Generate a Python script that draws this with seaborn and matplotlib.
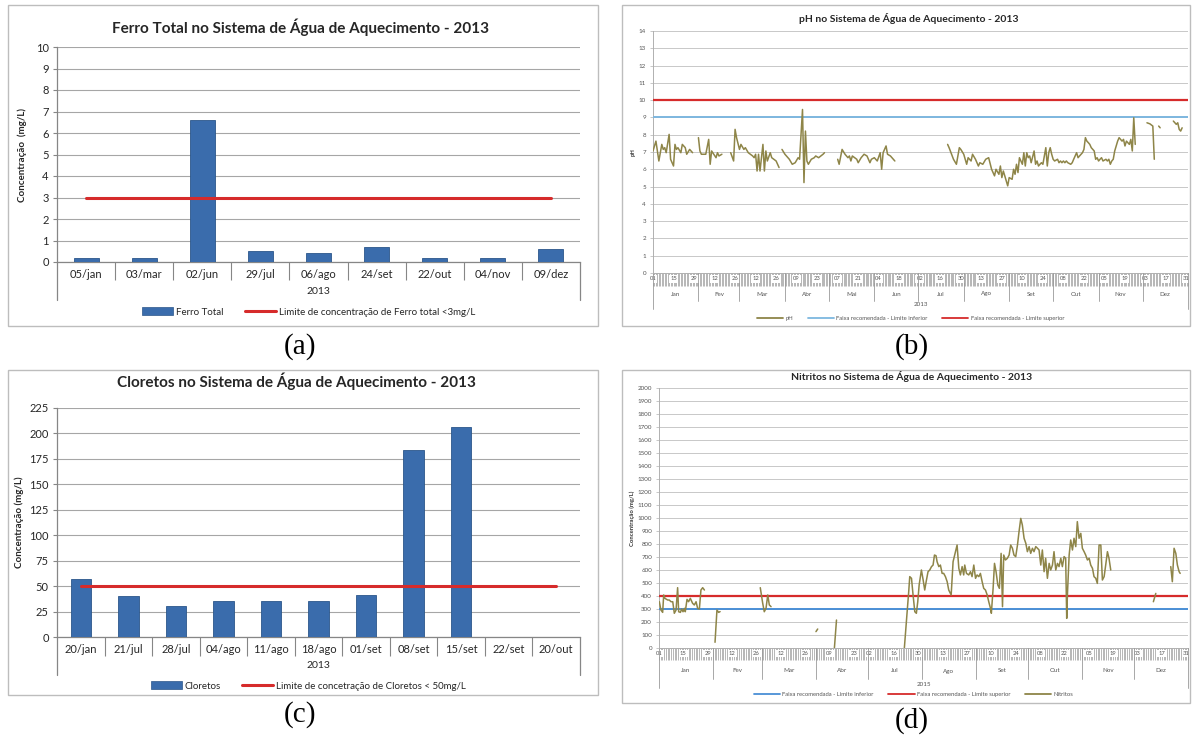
import numpy as np
import pandas as pd
import matplotlib
matplotlib.use("Agg")
import matplotlib.pyplot as plt
import seaborn as sns
from matplotlib.patches import Rectangle, Patch
from matplotlib.lines import Line2D

# ------------------------------------------------------------------ data
ferro_datas = ["05/jan", "03/mar", "02/jun", "29/jul", "06/ago", "24/set", "22/out", "04/nov", "09/dez"]
ferro_valores = [0.2, 0.2, 6.6, 0.5, 0.4, 0.7, 0.2, 0.2, 0.6]
ferro_limite = 3.0

cloretos_datas = ["20/jan", "21/jul", "28/jul", "04/ago", "11/ago", "18/ago", "01/set", "08/set",
                  "15/set", "22/set", "20/out"]
cloretos_valores = [57, 40, 30, 35, 35, 35, 41, 184, 206, np.nan, np.nan]
cloretos_limite = 50.0

# pH: day of year (0 = 1 Jan); np.nan marks a break in the series
ph_dia = [0, 2, 4, 6, 7, 8, 9, 11, 12, 14, 15, 16, 17, 19, 20, 22, 23, 25, 27, np.nan,
          31, 32, 33, 36, 38, 39, 40, 43, 44, 45, 47, np.nan,
          53, 55, 56, 57, 59, 60, 62, 63, 65, 68, 69, 70, 71, 72, 73, 75, 76, 77, 78, 80, 81, 84, 86, np.nan,
          88, 90, 93, 95, 97, 99, 100, 102, 103, 104, 105, 106, 108, 110, 111, 113, 116, 117, np.nan,
          126, 127, 129, 131, 133, 134, 135, 136, 139, 140, 142, 144, 146, 148, 149, 151, 153, 155, 156,
          157, 159, 160, 162, 165, np.nan,
          201, 202, 205, 207, 209, 210, 212, 214, 215, 217, 218, 220, 222, 223, 225, 227, 229, 231, 232,
          233, 234, 236, 237, 238, 239, 240, 242, 243, 245, 246, 247, 248, 249, 250, 252, 253, 254, 255,
          256, 257, 258, 260, 261, 262, 263, 264, 265, 266, 268, 269, 270, 271, 272, 273, 274, 276, 277,
          278, 279, 280, 281, 282, 283, 285, 286, 287, 288, 289, 290, 291, 293, 294, 295, 296, 297, 298,
          299, 301, 302, 303, 304, 305, 306, 307, 309, 310, 311, 312, 313, 314, 315, 317, 318, 319, 320,
          321, 322, 323, 325, 326, 327, 328, 329, np.nan,
          337, 339, 341, 342, np.nan, 345, 346, np.nan, 355, 357, 358, 359, 360, 361]
ph_valor = [7.06, 7.63, 6.48, 7.44, 7.15, 7.25, 6.96, 8.02, 6.58, 6.19, 7.44, 7.15, 7.25, 6.96, 7.44, 7.25,
            6.87, 7.15, 6.96, np.nan,
            7.83, 7.06, 6.87, 6.87, 7.73, 6.29, 7.06, 6.67, 6.96, 6.77, 6.87, np.nan,
            6.96, 6.48, 8.31, 7.83, 7.15, 7.44, 7.15, 7.25, 6.96, 6.77, 6.67, 6.87, 5.9, 6.87, 5.9, 7.44,
            5.9, 7.06, 6.48, 6.96, 6.67, 6.48, 6.1, np.nan,
            7.15, 6.87, 6.58, 6.29, 6.38, 6.67, 6.58, 9.46, 5.23, 8.21, 6.48, 6.29, 6.58, 6.67, 6.77, 6.67,
            6.87, 6.96, np.nan,
            6.58, 6.29, 7.15, 6.87, 6.67, 6.77, 6.48, 6.77, 6.58, 6.38, 6.67, 6.87, 6.77, 6.38, 6.58, 6.67,
            6.48, 6.96, 6.0, 6.96, 7.35, 6.87, 6.77, 6.48, np.nan,
            7.44, 7.25, 6.58, 6.29, 7.25, 7.15, 6.87, 6.29, 6.67, 6.48, 6.87, 6.58, 6.19, 6.38, 6.29, 6.58,
            6.67, 6.0, 5.81, 5.62, 6.0, 5.71, 6.19, 5.52, 5.9, 5.62, 5.04, 5.52, 5.42, 6.0, 5.71, 6.29,
            5.81, 6.67, 6.29, 6.96, 6.19, 6.96, 6.67, 6.77, 6.38, 7.06, 6.29, 6.48, 6.19, 6.29, 6.38, 6.29,
            7.25, 6.19, 6.96, 7.25, 6.87, 6.58, 6.48, 6.58, 6.38, 6.48, 6.38, 6.48, 6.38, 6.48, 6.38, 6.29,
            6.38, 6.58, 6.77, 6.96, 6.67, 6.77, 6.96, 7.15, 7.83, 7.63, 7.54, 7.44, 7.25, 7.06, 6.58, 6.67,
            6.48, 6.58, 6.67, 6.48, 6.58, 6.48, 6.58, 6.29, 6.48, 6.58, 7.06, 7.63, 7.83, 7.73, 7.63, 7.73,
            7.35, 7.63, 7.44, 7.73, 7.06, 8.98, 7.44, np.nan,
            8.69, 8.63, 8.5, 6.58, np.nan, 8.5, 8.4, np.nan, 8.79, 8.6, 8.69, 8.31, 8.21, 8.4]
ph_limite_inferior = 9.0
ph_limite_superior = 10.0

# Nitritos: position on the category axis (days, May and June absent); np.nan = break
nitrito_dia = [0.2, 1.1, 2.1, 2.7, 3.4, 5.0, 5.9, 6.9, 7.9, 8.8, 9.8, 10.7, 11.3, 12.3, 13.0, 13.8, 14.6,
               15.1, 16.1, 17.0, 18.0, 19.3, 20.3, 21.3, 22.2, 23.2, 24.1, 25.1, 26.1, np.nan,
               32.2, 33.3, 34.3, 35.1, np.nan,
               58.2, 59.6, 60.5, 61.5, 62.5, 63.4, 64.4, np.nan,
               90.2, 91.2, np.nan, 100.8, 102.0, np.nan,
               141.0, 142.6, 143.5, 144.1, 145.1, 146.0, 147.0, 147.9, 148.7, 149.5, 150.8, 151.8, 152.7,
               153.7, 154.6, 155.6, 156.6, 157.5, 158.3, 159.2, 159.8, 160.8, 161.7, 162.7, 163.6, 164.6,
               165.6, 166.5, 167.9, 169.0, 171.3, 172.3, 173.2, 174.2, 175.1, 175.7, 176.7, 178.0, 179.0,
               179.9, 180.9, 181.9, 182.8, 183.8, 184.7, 185.7, 186.6, 187.6, 188.6, 189.5, 190.5, 191.0,
               192.0, 192.8, 193.7, 194.7, 195.6, 196.6, 197.4, 198.1, 199.1, 200.2, 201.2, 202.1, 203.1,
               204.0, 205.0, 206.0, 206.9, 207.9, 208.8, 209.8, 210.8, 211.7, 212.7, 213.6, 214.6, 215.5,
               216.5, 217.5, 218.4, 219.4, 220.3, 221.3, 222.2, 223.2, 224.2, 225.1, 226.1, 227.0, 228.0,
               229.0, 229.9, 230.9, 231.8, 232.8, 233.7, 234.3, 234.7, 235.7, 236.6, 237.6, 238.5, 239.5,
               240.4, 241.4, 242.4, 243.3, 244.3, 245.2, 246.2, 247.2, 248.1, 249.1, 250.0, 251.0, 251.9,
               252.9, 253.9, 254.8, 255.8, 256.7, 257.7, 258.6, 259.6, np.nan,
               284.1, 285.5, np.nan,
               294.1, 295.0, 296.0, 297.0, 297.9, 298.9, 299.5]
nitrito_valor = [356, 292, 274, 408, 382, 369, 369, 356, 356, 267, 292, 464, 279, 274, 300, 279, 305,
                 279, 374, 356, 382, 344, 331, 356, 305, 300, 446, 464, 446, np.nan,
                 44, 292, 274, 280, np.nan,
                 464, 344, 279, 305, 408, 331, 318, np.nan,
                 126, 146, np.nan, 0, 215, np.nan,
                 0, 279, 433, 549, 536, 408, 279, 267, 356, 485, 600, 523, 446,
                 523, 587, 600, 626, 638, 715, 710, 664, 626, 638, 574, 574, 549,
                 510, 446, 408, 664, 792, 613, 562, 626, 562, 638, 574, 562, 587,
                 549, 638, 536, 562, 549, 574, 510, 459, 446, 408, 356, 305, 267,
                 459, 651, 587, 485, 459, 728, 318, 715, 677, 690, 715, 792, 767,
                 715, 703, 792, 895, 997, 946, 844, 805, 741, 780, 728, 767, 741,
                 780, 767, 754, 638, 754, 587, 690, 536, 651, 600, 638, 741, 600,
                 651, 626, 690, 626, 703, 690, 228, 408, 715, 831, 754, 844, 780,
                 972, 844, 882, 767, 741, 715, 677, 690, 638, 613, 549, 536, 497,
                 792, 792, 523, 549, 638, 741, 690, 600, np.nan,
                 356, 420, np.nan,
                 626, 510, 767, 728, 638, 587, 574]
nitrito_limite_inferior = 300.0
nitrito_limite_superior = 400.0

meses = ["Jan", "Fev", "Mar", "Abr", "Mai", "Jun", "Jul", "Ago", "Set", "Out", "Nov", "Dez"]
dias_mes = [31, 28, 31, 30, 31, 30, 31, 31, 30, 31, 30, 31]
meses_nitrito = ["Jan", "Fev", "Mar", "Abr", "Jul", "Ago", "Set", "Out", "Nov", "Dez"]
dias_mes_nitrito = [31, 28, 31, 30, 31, 31, 30, 31, 30, 31]

# ------------------------------------------------------------------ style
sns.set_theme(style="white")
plt.rcParams["font.family"] = ["Lato", "DejaVu Sans"]

W, H = 1195, 736
fig = plt.figure(figsize=(W / 100, H / 100), dpi=100)
fig.patch.set_facecolor("white")

BAR = "#3A6CAC"
BAR_EDGE = "#2B568A"
RED = "#D62B2B"
OLIVE = "#8E8548"
BLUE_B = "#7DB7DF"
BLUE_D = "#4A8FD6"
TXT = "#262626"
GRID = "#A6A6A6"


def add_ax(x0, y0, x1, y1):
    return fig.add_axes([x0 / W, 1 - y1 / H, (x1 - x0) / W, (y1 - y0) / H])


def box(x0, y0, x1, y1):
    fig.add_artist(Rectangle((x0 / W, 1 - y1 / H), (x1 - x0) / W, (y1 - y0) / H,
                             transform=fig.transFigure, fill=False, edgecolor="#BDBDBD", lw=1.0))


def fx(px):
    return px / W


def fy(py):
    return 1 - py / H


def segments(x, y):
    x = np.asarray(x, float)
    y = np.asarray(y, float)
    seg = np.cumsum(np.isnan(y))
    df = pd.DataFrame({"x": x, "y": y, "seg": seg})
    return df.dropna()


# ------------------------------------------------------------------ bar panels
def bar_panel(axpx, cats, vals, lim, ymax, ystep, title, title_xy, ylabel, ylabel_x,
              leg_labels, leg_y, year_y, sep_px, outer_px):
    x0, y0, x1, y1 = axpx
    axh = y1 - y0
    ax = add_ax(*axpx)
    n = len(cats)
    df = pd.DataFrame({"cat": cats, "val": vals})
    sns.barplot(data=df, x="cat", y="val", order=cats, ax=ax, color=BAR, width=0.43,
                saturation=1, edgecolor=BAR_EDGE, linewidth=0.6, zorder=3)
    sns.lineplot(x=np.arange(n), y=np.full(n, lim), ax=ax, color=RED, lw=2.2, zorder=4)
    ax.set_xlim(-0.5, n - 0.5)
    ax.set_ylim(0, ymax)
    ax.set_yticks(np.arange(0, ymax + ystep / 2, ystep))
    ax.grid(axis="y", color=GRID, lw=0.8)
    ax.set_axisbelow(True)
    for s in ["top", "right"]:
        ax.spines[s].set_visible(False)
    for s in ["left", "bottom"]:
        ax.spines[s].set_color("#868686")
        ax.spines[s].set_linewidth(0.9)
    ax.tick_params(axis="y", left=True, length=3, width=0.8, color="#868686", labelsize=8,
                   labelcolor=TXT, pad=3)
    ax.tick_params(axis="x", which="major", bottom=True, length=0, pad=5, labelsize=8, labelcolor=TXT)
    ax.set_xticks(np.arange(0.5, n - 1, 1.0), minor=True)
    ax.tick_params(axis="x", which="minor", bottom=True, length=sep_px * 0.72, width=0.8,
                   color="#868686")
    ax.set_xlabel("")
    ax.set_ylabel(ylabel, fontsize=7, fontweight="bold", color=TXT)
    ax.yaxis.set_label_coords(-(x0 - ylabel_x) / (x1 - x0), 0.5)
    tr = ax.get_xaxis_transform()
    for xv in (-0.5, n - 0.5):
        ax.plot([xv, xv], [0, -outer_px / axh], transform=tr, color="#868686", lw=0.9, clip_on=False)
    ax.text(0.5, -(year_y - y1) / axh, "2013", transform=ax.transAxes, ha="center", va="center",
            fontsize=7.5, color=TXT)
    fig.text(fx(title_xy[0]), fy(title_xy[1]), title, ha="center", va="center", fontsize=11,
             fontweight="bold", color=TXT)
    handles = [Patch(facecolor=BAR, edgecolor=BAR_EDGE, lw=0.5),
               Line2D([0], [0], color=RED, lw=2.2)]
    fig.legend(handles, leg_labels, loc="center", bbox_to_anchor=(fx((x0 + x1) / 2 - 10), fy(leg_y)),
               ncol=2, frameon=False, fontsize=7, handlelength=3.2, handleheight=0.8,
               columnspacing=2.2, handletextpad=0.3, labelcolor=TXT)
    return ax


box(8, 5, 598, 326)
bar_panel((57, 47, 580, 262), ferro_datas, ferro_valores, ferro_limite, 10, 1,
          "Ferro Total no Sistema de Água de Aquecimento - 2013", (300, 27),
          "Concentração  (mg/L)", 27,
          ["Ferro Total", "Limite de concentração de Ferro total <3mg/L"], 312, 292, 18, 38)

box(8, 370, 598, 695)
bar_panel((57, 408, 580, 637), cloretos_datas, cloretos_valores, cloretos_limite, 225, 25,
          "Cloretos no Sistema de Água de Aquecimento - 2013", (296, 381),
          "Concentração (mg/L)", 24,
          ["Cloretos", "Limite de concetração de Cloretos < 50mg/L"], 686, 666, 19, 38)


# ------------------------------------------------------------------ time panels
def time_panel(axpx, df, series_color, ylim, ystep, month_names, month_days, skip_months,
               lim_inf, lim_sup, blue, title, title_y, ylabel, year_label,
               tick_px, month_y, sep_px, outer_px, year_y, leg_items, leg_y):
    x0, y0, x1, y1 = axpx
    axh = y1 - y0
    ax = add_ax(*axpx)
    sns.lineplot(data=df, x="x", y="y", units="seg", estimator=None, sort=False, ax=ax,
                 color=series_color, lw=1.1, zorder=4)
    ax.axhline(lim_inf, color=blue, lw=1.4, zorder=3)
    ax.axhline(lim_sup, color=RED, lw=1.6, zorder=3)
    total = sum(month_days)
    ax.set_xlim(0, total)
    ax.set_ylim(0, ylim)
    ax.set_yticks(np.arange(0, ylim + ystep / 2, ystep))
    ax.grid(axis="y", color="#C8C8C8", lw=0.7)
    ax.set_axisbelow(True)
    for s in ["top", "right", "bottom"]:
        ax.spines[s].set_visible(False)
    ax.spines["left"].set_color("#B0B0B0")
    ax.spines["left"].set_linewidth(0.7)
    ax.tick_params(axis="y", left=True, length=2, width=0.5, color="#B0B0B0", labelsize=4.5,
                   labelcolor="#555555", pad=3)
    # dense category ticks (one per day) as major ticks, labels every 14 days as minor ticks
    ax.xaxis.remove_overlapping_locs = False
    ax.set_xticks(np.arange(0, total + 1, 1))
    ax.tick_params(axis="x", which="major", bottom=True, length=tick_px * 0.72, width=0.45,
                   color="#8E8E8E", labelbottom=False)
    base = pd.Timestamp("2013-01-01")
    pos, labs = [], []
    for d in range(0, 365, 14):
        dt = base + pd.Timedelta(days=d)
        if dt.month in skip_months:
            continue
        p = d - sum(dias_mes[m - 1] for m in skip_months if m < dt.month)
        pos.append(p)
        labs.append(f"{dt.day:02d}")
    ax.set_xticks(pos, labs, minor=True)
    ax.tick_params(axis="x", which="minor", bottom=True, length=0, pad=(tick_px - 6) / 2 * 0.72,
                   labelsize=4.2, labelcolor="#555555")
    for lbl in ax.xaxis.get_minorticklabels():
        lbl.set_bbox(dict(facecolor="white", edgecolor="none", pad=0.8))
    tr = ax.get_xaxis_transform()
    bounds = np.concatenate([[0], np.cumsum(month_days)])
    ax.plot([0, total], [0, 0], transform=tr, color="#B0B0B0", lw=0.7, clip_on=False)
    for i, b in enumerate(bounds):
        depth = outer_px if i in (0, len(bounds) - 1) else sep_px
        ax.plot([b, b], [0, -depth / axh], transform=tr, color="#9A9A9A", lw=0.6, clip_on=False)
    for name, a, b in zip(month_names, bounds[:-1], bounds[1:]):
        ax.text((a + b) / 2, -(month_y - y1) / axh, name, transform=tr, ha="center", va="center",
                fontsize=4.5, color="#555555")
    ax.text(0.5, -(year_y - y1) / axh, year_label, transform=ax.transAxes, ha="center",
            va="center", fontsize=4.5, color="#555555")
    ax.set_xlabel("")
    ax.set_ylabel(ylabel, fontsize=4.2, fontweight="bold", color="#333333", labelpad=2)
    fig.text(fx((x0 + x1) / 2 - 12), fy(title_y), title, ha="center", va="center", fontsize=7.5,
             fontweight="bold", color=TXT)
    handles = [Line2D([0], [0], color=c, lw=1.3) for c, _ in leg_items]
    labels = [t for _, t in leg_items]
    fig.legend(handles, labels, loc="center", bbox_to_anchor=(fx((x0 + x1) / 2 - 10), fy(leg_y)),
               ncol=len(handles), frameon=False, fontsize=4.2, handlelength=4.5,
               columnspacing=2.5, handletextpad=0.4, labelcolor="#555555")
    return ax


box(622, 5, 1190, 326)
time_panel((653, 31, 1188, 273), segments(ph_dia, ph_valor), OLIVE, 14, 1, meses, dias_mes, [],
           ph_limite_inferior, ph_limite_superior, BLUE_B,
           "pH no Sistema de Água de Aquecimento - 2013", 18, "pH", "2013",
           13, 294, 28, 36, 305,
           [(OLIVE, "pH"), (BLUE_B, "Faixa recomendada - Limite inferior"),
            (RED, "Faixa recomendada - Limite superior")], 318)

box(622, 370, 1190, 703)
time_panel((659, 388, 1188, 648), segments(nitrito_dia, nitrito_valor), OLIVE, 2000, 100,
           meses_nitrito, dias_mes_nitrito, [5, 6],
           nitrito_limite_inferior, nitrito_limite_superior, BLUE_D,
           "Nitritos no Sistema de Água de Aquecimento - 2013", 376, "Concentração (mg/L)", "2015",
           12, 671, 31, 40, 684,
           [(BLUE_D, "Faixa recomendada - Limite inferior"), (RED, "Faixa recomendada - Limite superior"),
            (OLIVE, "Nitritos")], 694)

# ------------------------------------------------------------------ captions
for label, x, y in [("(a)", 300, 347), ("(b)", 912, 347), ("(c)", 300, 715), ("(d)", 912, 721)]:
    fig.text(fx(x), fy(y), label, ha="center", va="center", fontsize=21,
             family=["Liberation Serif", "DejaVu Serif"], color="black")

fig.savefig("out.png", dpi=100, facecolor="white")
